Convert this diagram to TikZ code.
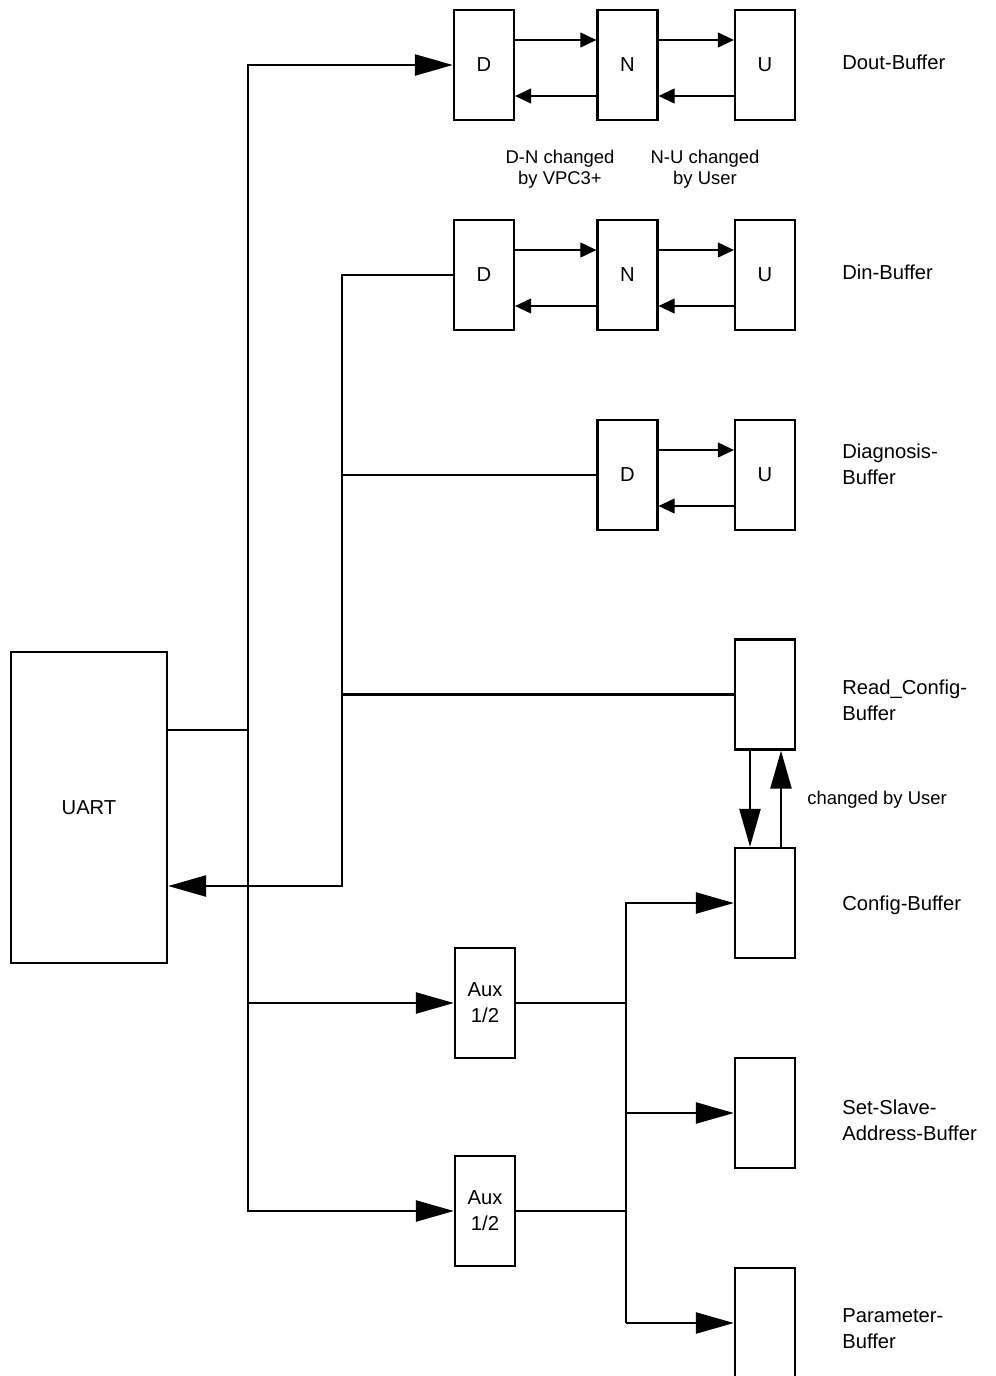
\documentclass[tikz,border=0pt]{standalone}
\usepackage{fontspec}
\setmainfont{Liberation Sans}
\usetikzlibrary{arrows.meta, calc}

\begin{document}
\begin{tikzpicture}[x=0.02cm, y=-0.02cm,
    buf/.style={draw, line width=1.3pt, minimum width=1.2cm, minimum height=2.2cm,
      inner sep=0pt, align=center, font=\fontsize{11.5}{14.7}\selectfont},
    lbl/.style={anchor=west, align=left, inner sep=0pt,
      font=\fontsize{11.5}{14.7}\selectfont},
    note/.style={align=center, inner sep=0pt, font=\fontsize{10.5}{12}\selectfont},
    bus/.style={line width=1.4pt},
    feed/.style={bus, -{Triangle[length=0.76cm, width=0.42cm]}},
    swap/.style={line width=0.6pt, -{Triangle[length=0.32cm, width=0.3cm]}}]
  \useasboundingbox (0,0) rectangle (995,1376);

  \node[buf, minimum width=3.12cm, minimum height=6.22cm] (uart) at (89,807.5) {UART};

  % D/N/U buffers
  \foreach \n/\y in {dout/65, din/275} {
    \node[buf] (\n-D) at (484,\y) {D};
    \node[buf] (\n-N) at (627.5,\y) {N};
    \node[buf] (\n-U) at (765,\y) {U};
  }
  \node[buf] (diag-D) at (627.5,475) {D};
  \node[buf] (diag-U) at (765,475) {U};
  \foreach \a/\b in {dout-D/dout-N, dout-N/dout-U, din-D/din-N, din-N/din-U, diag-D/diag-U} {
    \draw[swap] ($(\a.east)+(0,-25)$) -- ($(\b.west)+(0,-25)$);
    \draw[swap] ($(\b.west)+(0,31)$) -- ($(\a.east)+(0,31)$);
  }

  \node[buf] (rcfg) at (765,694.5) {};
  \node[buf] (cfg) at (765,903) {};
  \node[buf] (slave) at (765,1113) {};
  \node[buf] (param) at (765,1323) {};
  \node[buf] (aux1) at (485,1003) {Aux\\1/2};
  \node[buf] (aux2) at (485,1211) {Aux\\1/2};

  \coordinate (j1) at (248,730);
  \coordinate (j2) at (342,886);
  \coordinate (j3) at (626,1323);

  % UART outputs
  \draw[bus] (uart.east |- j1) -- (j1);
  \draw[feed] (j1) |- (dout-D);
  \draw[feed] (j1) |- (aux1);
  \draw[feed] (j1) |- (aux2);
  % back to UART
  \draw[feed] (din-D) -| (j2) -- (uart.east |- j2);
  \draw[bus] (diag-D) -- (diag-D -| j2);
  \draw[bus] (rcfg) -- (rcfg -| j2);
  % aux to config buffers
  \draw[bus] (aux1) -- (aux1 -| j3);
  \draw[bus] (aux2) -- (aux2 -| j3);
  \draw[feed] (j3) |- (cfg);
  \draw[feed] (j3 |- slave) -- (slave);
  \draw[feed] (j3) -- (param);
  \draw[feed] ($(rcfg.south)+(-15,0)$) -- ($(cfg.north)+(-15,0)$);
  \draw[feed] ($(cfg.north)+(16,0)$) -- ($(rcfg.south)+(16,0)$);

  \node[lbl] (t-dout) at (842,62) {Dout-Buffer};
  \node[lbl] (t-din) at (842,272) {Din-Buffer};
  \node[lbl] (t-diag) at (842,464) {Diagnosis-\\Buffer};
  \node[lbl] (t-rcfg) at (842,700) {Read\_Config-\\Buffer};
  \node[lbl] (t-cfg) at (842,905) {Config-Buffer};
  \node[lbl] (t-slave) at (842,1120) {Set-Slave-\\Address-Buffer};
  \node[lbl] (t-param) at (842,1329) {Parameter-\\Buffer};
  \node[note, anchor=west] (t-chg) at (807,800) {changed by User};
  \node[note] (t-dn) at (560,169) {D-N changed\\by VPC3+};
  \node[note] (t-nu) at (705,169) {N-U changed\\by User};
\end{tikzpicture}
\end{document}
